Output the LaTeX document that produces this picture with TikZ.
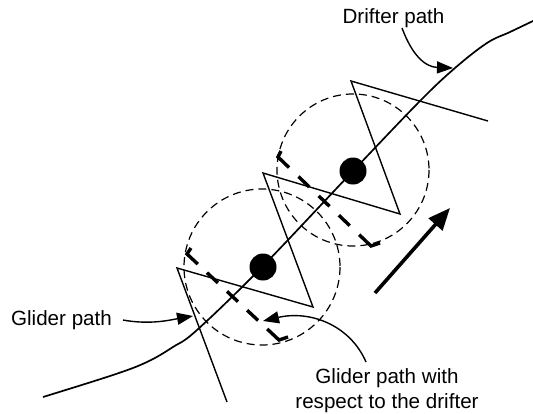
\documentclass[tikz,border=0pt]{standalone}
\usepackage{fontspec}
\setmainfont{Liberation Sans}
\usetikzlibrary{arrows.meta}
\begin{document}
\begin{tikzpicture}[x=1pt,y=-1pt,
  thinline/.style={line width=1.4pt},
  drift/.style={line width=1.7pt},
  circ/.style={line width=1.2pt, dash pattern=on 8pt off 5pt},
  reldash/.style={line width=3.4pt, line join=miter},
  callout/.style={line width=1.4pt, -{Triangle[length=16pt,width=12pt]}},
  lbl/.style={font=\fontsize{20.6}{25}\selectfont, inner sep=0pt},
  dot/.style={circle, fill=black, minimum size=27pt, inner sep=0pt}]
\useasboundingbox (0,0) rectangle (533,413);
% dashed circles
\draw[circ] (262,267) circle[radius=78];
\draw[circ] (353,170) circle[radius=76];
% glider zigzag path
\draw[thinline, line join=miter] (227,402) -- (177,268) -- (313,307) -- (263,173) -- (400,214) -- (351,81) -- (488,121);
% drifter path
\draw[drift] plot[smooth, tension=0.6] coordinates {(43,397) (113,375) (147,362) (173,347) (197,330) (262,267) (353,171) (420,101) (455,68) (487,43) (510,32) (533,21)};
% glider path relative to drifter
\draw[reldash, dash pattern=on 22pt off 12.5pt on 15pt off 12.5pt on 15pt off 12.5pt on 15pt off 12.5pt on 30pt]
  (191,248) -- (187,254) -- (279,340) -- (288,337);
\draw[reldash, dash pattern=on 22pt off 13pt on 15pt off 13pt on 15pt off 13pt on 15pt off 13pt on 30pt]
  (281,151) -- (278,157) -- (371,246) -- (380,243);
% dots
\node[dot] (d1) at (263,267) {};
\node[dot] (d2) at (353,171) {};
% big arrow
\coordinate (ba1) at (375,293);
\coordinate (ba2) at (450,208);
\draw[line width=3.6pt, -{Triangle[length=22pt,width=18pt]}] (ba1) -- (ba2);
% labels
\node[lbl, anchor=base] (ldrift) at (393.5,23) {Drifter path};
\node[lbl, anchor=base] (lglider) at (61.5,325) {Glider path};
\node[lbl, anchor=north, align=center] (lrel) at (387,368) {Glider path with\\respect to the drifter};
% callout arrows
\coordinate (t1s) at (402,28);
\coordinate (t1e) at (453,68);
\draw[callout] (t1s) .. controls (412,55) and (425,67) .. (t1e);
\coordinate (t2s) at (123,320);
\coordinate (t2e) at (193,316);
\draw[callout] (t2s) .. controls (150,325) and (170,320) .. (t2e);
\coordinate (t3s) at (366,362);
\coordinate (t3e) at (263,321);
\draw[callout] (t3s) .. controls (350,325) and (310,310) .. (t3e);
\end{tikzpicture}
\end{document}
